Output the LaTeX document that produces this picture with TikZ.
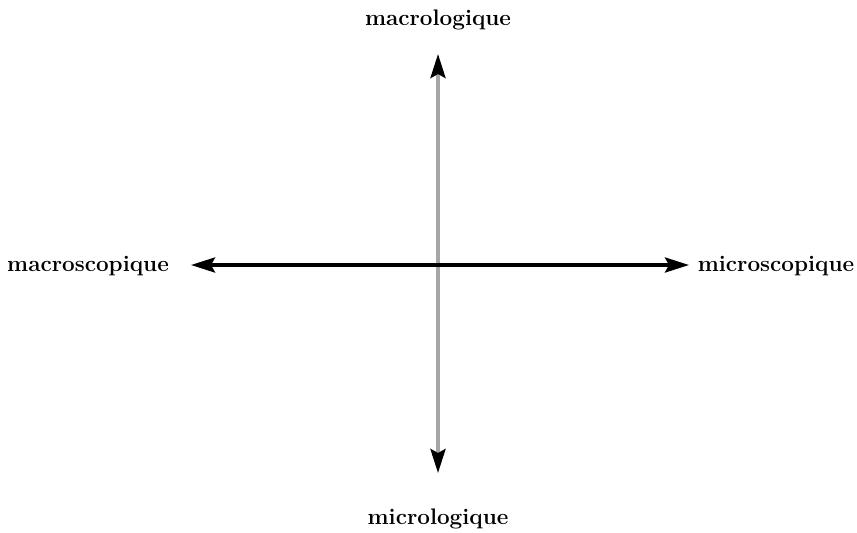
\documentclass[tikz,border=0pt]{standalone}
\usepackage{tikz}
\usetikzlibrary{arrows.meta}

\begin{document}
\begin{tikzpicture}[
        x=0.02cm, y=-0.02cm,
        every node/.style={font=\fontsize{12.8}{15}\selectfont\bfseries},
        lbl/.style={inner sep=0pt},
        axe/.style={{Stealth[length=0.48cm, width=0.3cm, inset=0.08cm, color=black]}-{Stealth[length=0.48cm, width=0.3cm, inset=0.08cm, color=black]}, line width=2pt},
        vaxe/.style={axe, draw=gray!70, line width=2.2pt}
    ]
%
    \useasboundingbox (0, 0) rectangle (857, 532);
%
    % Labels
    \node[lbl] (macrolog) at (438, 20) {macrologique};
    \node[lbl] (microlog) at (438, 519) {micrologique};
    \node[lbl] (macrosc) at (88, 266) {macroscopique};
    \node[lbl] (microsc) at (776, 266) {microscopique};
%
    % Axis ends
    \coordinate (haut) at (438, 54);
    \coordinate (bas) at (438, 473);
    \coordinate (gauche) at (191, 265);
    \coordinate (droite) at (689, 265);
%
    % Axes
    \draw[vaxe] (haut) -- (bas);
    \draw[axe] (gauche) -- (droite);
%
\end{tikzpicture}
\end{document}
